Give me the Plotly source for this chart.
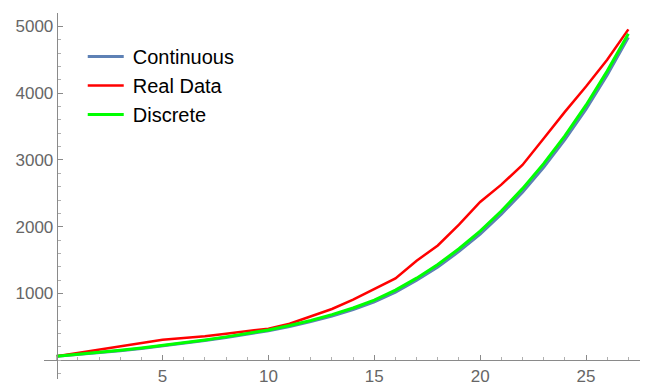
import plotly.graph_objects as go

# x values (days / steps)
x_vals = list(range(0, 28))

# Continuous model (blue)
continuous = [60, 86, 114, 144, 177, 213, 252, 295, 341, 390, 443, 506, 579, 664, 761,
              875, 1022, 1198, 1398, 1630, 1890, 2187, 2518, 2890, 3303, 3760, 4270, 4835]

# Real data (red)
real_data = [60, 110, 160, 209, 250, 309, 335, 359, 399, 434, 474, 548, 658, 768, 907,
             1067, 1225, 1490, 1720, 2030, 2370, 2630, 2925, 3320, 3720, 4100, 4500, 4955]

# Discrete model (green)
discrete = [62, 89, 118, 149, 183, 220, 260, 304, 351, 401, 455, 520, 595, 683, 783,
            900, 1050, 1230, 1435, 1670, 1935, 2235, 2570, 2945, 3360, 3820, 4330, 4890]

series_names = ["Continuous", "Real Data", "Discrete"]

x_ticks = [5, 10, 15, 20, 25]
y_ticks = [1000, 2000, 3000, 4000, 5000]

x_range = [-0.6, 27.55]
y_range = [-280, 5200]

pad = "\u2009"
fig = go.Figure()
fig.add_trace(go.Scatter(x=x_vals, y=continuous, mode="lines", name=pad + series_names[0],
                         line=dict(color="#5E81B5", width=3)))
fig.add_trace(go.Scatter(x=x_vals, y=real_data, mode="lines", name=pad + series_names[1],
                         line=dict(color="#FF0000", width=2.5)))
fig.add_trace(go.Scatter(x=x_vals, y=discrete, mode="lines", name=pad + series_names[2],
                         line=dict(color="#00FF00", width=3)))

axis_gray = "#8a8a8a"
tick_font = dict(family="Liberation Sans, Arial, sans-serif", size=17, color="#666666")

fig.update_layout(
    width=651, height=389,
    margin=dict(l=44, r=11, t=13, b=10, autoexpand=False),
    paper_bgcolor="white", plot_bgcolor="white",
    showlegend=True,
    legend=dict(x=0.065, y=0.9345, xanchor="left", yanchor="top", itemwidth=36,
                bgcolor="rgba(0,0,0,0)", borderwidth=0,
                font=dict(family="Liberation Sans, Arial, sans-serif", size=20, color="black")),
    xaxis=dict(range=x_range, anchor="free", position=(0 - y_range[0]) / (y_range[1] - y_range[0]),
               side="bottom", showgrid=False, zeroline=False, automargin=False,
               showline=True, linecolor=axis_gray, linewidth=1,
               tickvals=x_ticks, ticks="inside", ticklen=5, tickcolor=axis_gray,
               minor=dict(dtick=1, tick0=0, ticks="inside", ticklen=3, tickcolor="#b0b0b0"),
               tickfont=tick_font),
    yaxis=dict(range=y_range, anchor="free", position=(0 - x_range[0]) / (x_range[1] - x_range[0]),
               side="left", showgrid=False, zeroline=False, automargin=False,
               showline=True, linecolor=axis_gray, linewidth=1,
               tickvals=y_ticks, ticks="inside", ticklen=5, tickcolor=axis_gray,
               minor=dict(dtick=200, tick0=0, ticks="inside", ticklen=3, tickcolor="#b0b0b0"),
               tickfont=tick_font),
)

fig.write_html("out.html", config={"displayModeBar": False},
               post_script="document.body.style.margin='0';")
